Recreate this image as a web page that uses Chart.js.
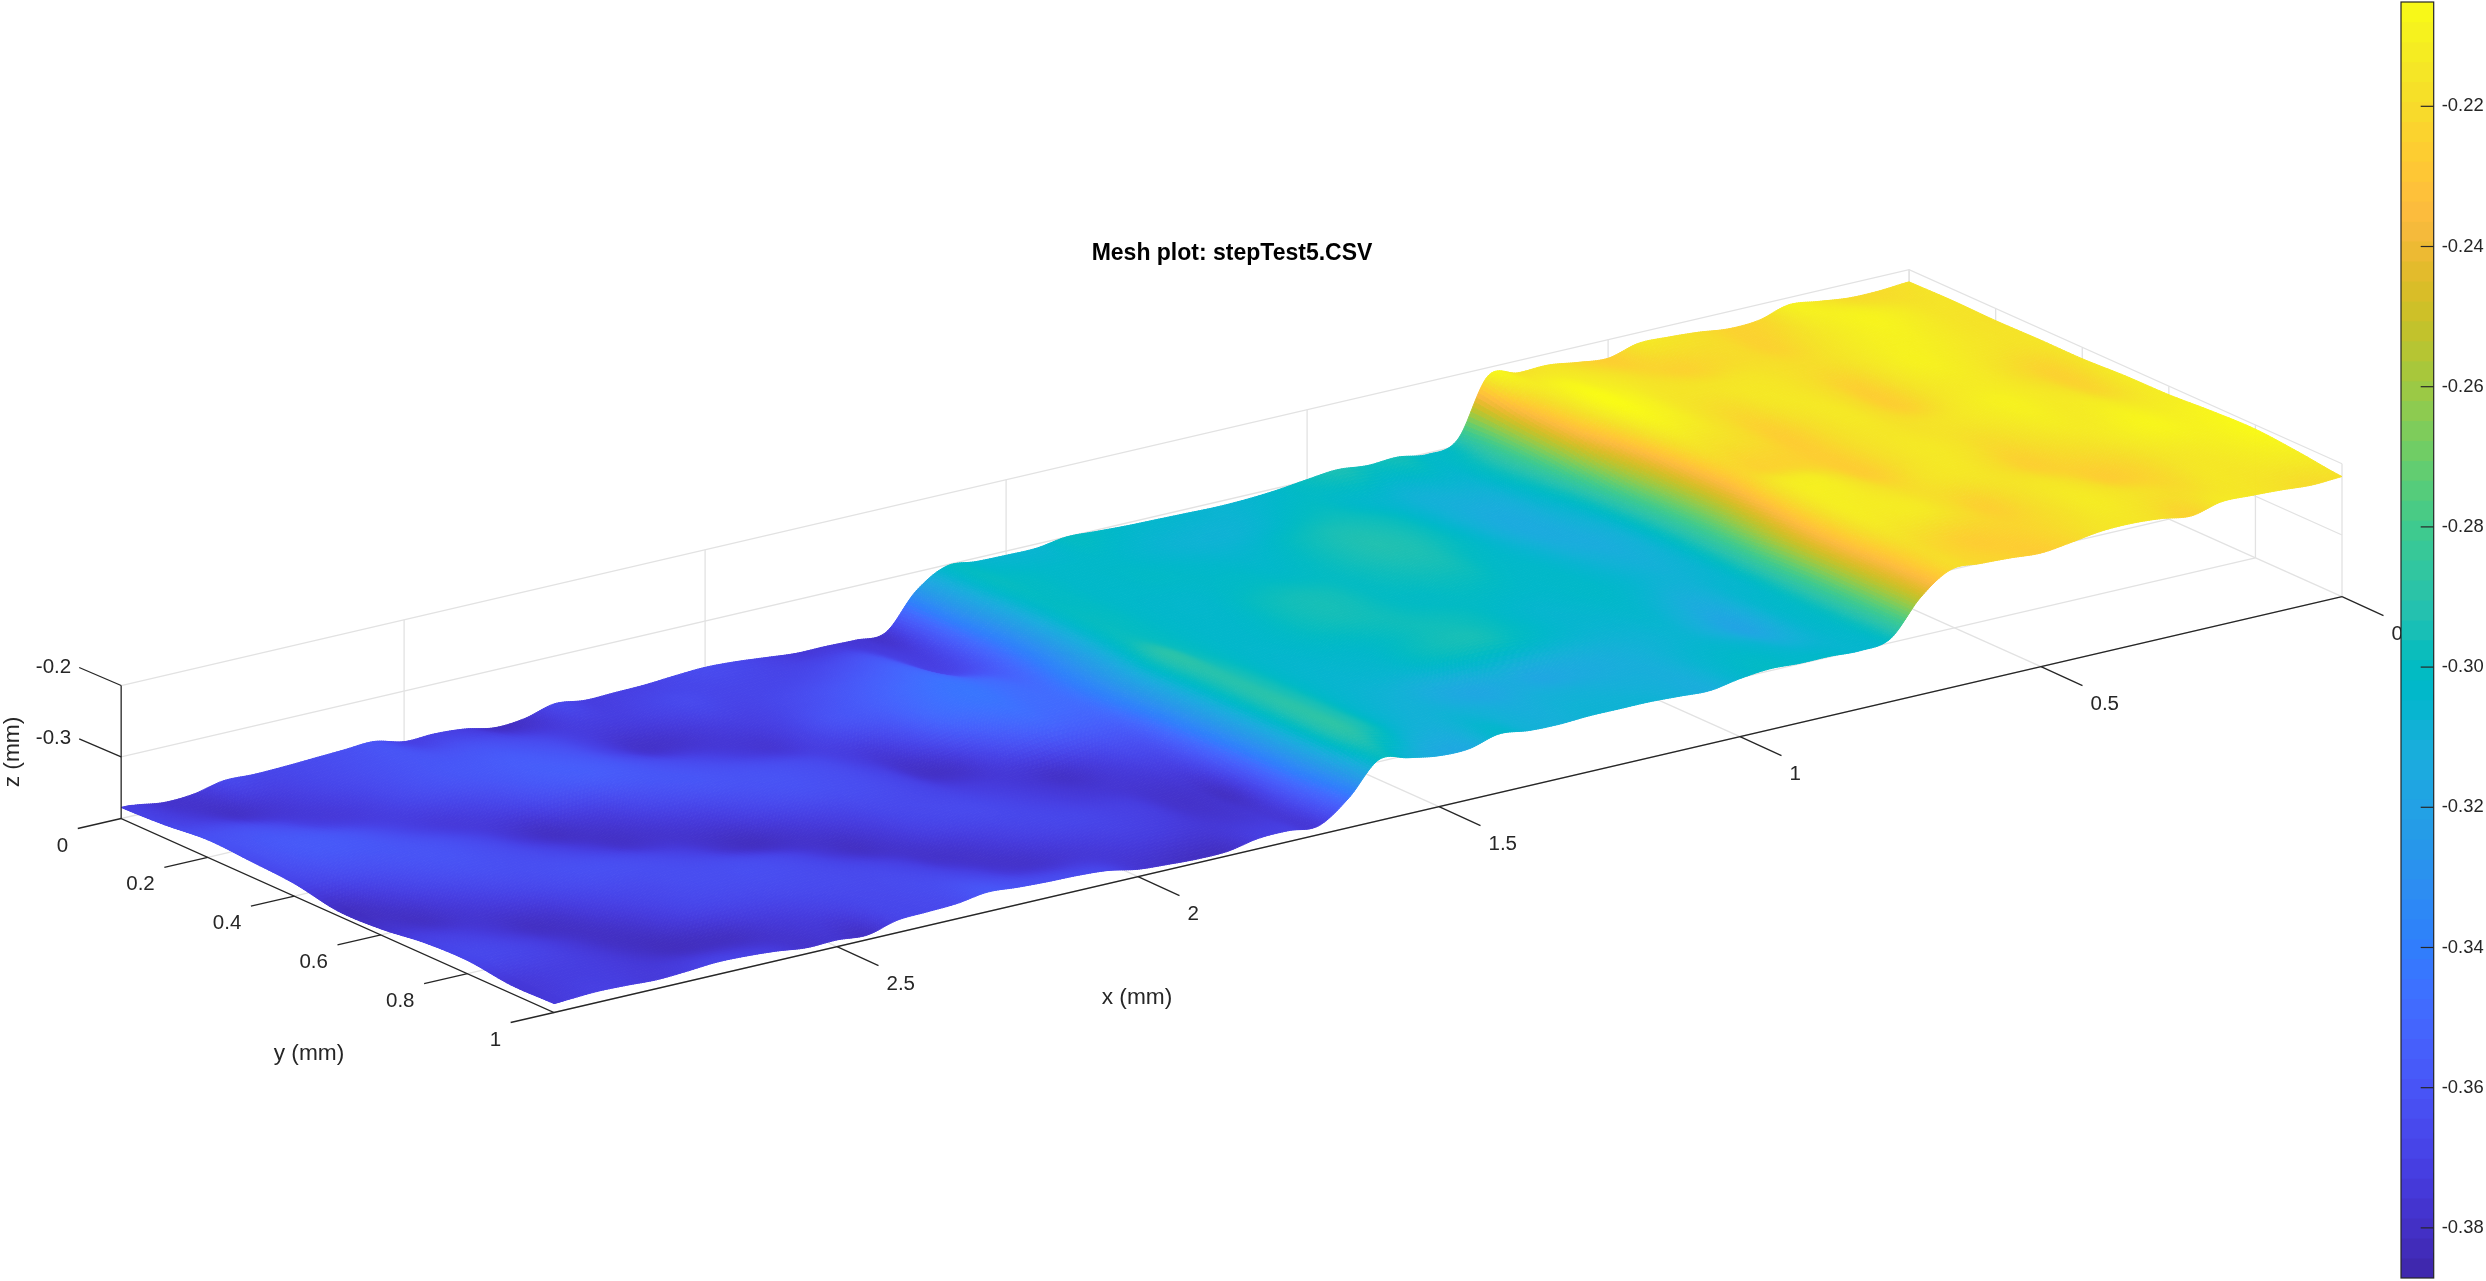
<!DOCTYPE html>
<html>
<head>
<meta charset="utf-8">
<title>Mesh plot: stepTest5.CSV</title>
<script src="https://cdn.jsdelivr.net/npm/chart.js@4"></script>
<style>
  html, body { margin: 0; padding: 0; background: #fff; overflow: hidden; }
  #meshChart { position: absolute; left: 0; top: 0; }
  #barChart { position: absolute; left: 2340px; top: 0; }
</style>
</head>
<body>
<canvas id="meshChart" width="2486" height="1281"></canvas>
<canvas id="barChart" width="146" height="1281"></canvas>
<script>
// grid of the measured surface, x and y in mm
const xValues = [0, 0.05, 0.1, 0.15, 0.2, 0.25, 0.3, 0.35, 0.4, 0.45, 0.5, 0.55, 0.6, 0.65, 0.7, 0.75, 0.8, 0.85, 0.9, 0.95,
  1, 1.05, 1.1, 1.15, 1.2, 1.25, 1.3, 1.35, 1.4, 1.45, 1.5, 1.55, 1.6, 1.65, 1.7, 1.75, 1.8, 1.85, 1.9, 1.95,
  2, 2.05, 2.1, 2.15, 2.2, 2.25, 2.3, 2.35, 2.4, 2.45, 2.5, 2.55, 2.6, 2.65, 2.7, 2.75, 2.8, 2.85, 2.9, 2.95, 2.97];
const yValues = [0, 0.1, 0.2, 0.3, 0.4, 0.5, 0.6, 0.7, 0.8, 0.9, 1];

// z in um, one row per y value
const zRow00 = [-217,-220,-220,-215,-210,-222,-224,-219,-216,-215,-226,-222,-216, -217,-212,-291,-302, -296,-298,-294,-298,-303,-306,-307,-306,-305,-304,-302,-300,-306,-306,-305, -302,-327,-375,-376, -375,-375,-371,-367,-365,-367,-370,-371,-372,-367,-378,-381,-373,-370,-371,-361,-363,-365,-367,-368,-367,-376,-378,-372,-371];
const zRow01 = [-216,-216,-212,-209,-212,-218,-224,-220,-221,-224,-221,-216,-212, -209,-228,-285,-304, -306,-308,-305,-303,-300,-302,-306,-308,-308,-307,-305,-303,-303,-303,-301, -302,-330,-368,-372, -362,-364,-367,-368,-368,-368,-366,-369,-372,-373,-372,-368,-364,-361,-361,-360,-362,-365,-368,-372,-376,-379,-374,-370,-368];
const zRow02 = [-217,-216,-213,-210,-211,-215,-219,-218,-216,-216,-216,-215,-209, -207,-235,-290,-308, -312,-310,-305,-299,-296,-295,-298,-303,-305,-304,-303,-302,-303,-303,-301, -304,-334,-362,-368, -352,-354,-358,-362,-366,-370,-372,-375,-378,-378,-370,-362,-358,-356,-358,-360,-363,-367,-372,-374,-372,-366,-362,-362,-362];
const zRow03 = [-216,-217,-215,-212,-210,-215,-225,-219,-215,-215,-221,-217,-211, -213,-250,-298,-310, -314,-310,-304,-298,-294,-293,-296,-300,-302,-301,-302,-304,-304,-303,-300, -303,-332,-352,-350, -345,-347,-352,-358,-362,-370,-376,-374,-370,-366,-362,-358,-356,-358,-362,-368,-372,-374,-371,-366,-361,-358,-358,-362,-365];
const zRow04 = [-216,-224,-219,-214,-213,-216,-225,-219,-214,-218,-226,-220,-218, -221,-262,-302,-312, -312,-308,-304,-301,-296,-296,-298,-300,-297,-296,-298,-303,-304,-303,-300, -300,-326,-346,-348, -345,-347,-352,-365,-374,-372,-367,-364,-362,-361,-360,-362,-366,-372,-376,-380,-376,-369,-364,-361,-360,-361,-363,-367,-369];
const zRow05 = [-213,-222,-216,-213,-210,-213,-216,-217,-215,-218,-226,-224,-224, -226,-265,-302,-310, -309,-306,-303,-303,-301,-300,-301,-300,-297,-296,-298,-302,-304,-303,-298, -291,-322,-348,-352, -352,-358,-368,-378,-379,-370,-365,-363,-362,-364,-368,-373,-376,-378,-379,-374,-369,-365,-363,-362,-364,-368,-374,-380,-380];
const zRow06 = [-212,-214,-211,-213,-212,-216,-220,-216,-214,-218,-226,-218,-212, -218,-258,-300,-308, -308,-305,-303,-304,-305,-303,-299,-297,-297,-300,-303,-304,-305,-303,-296, -293,-325,-358,-365, -372,-378,-376,-374,-372,-368,-366,-366,-370,-374,-378,-381,-378,-372,-368,-365,-363,-363,-365,-368,-372,-376,-380,-378,-378];
const zRow07 = [-208,-210,-208,-212,-217,-221,-225,-219,-215,-216,-219,-215,-212, -215,-248,-298,-306, -313,-309,-305,-306,-306,-304,-301,-297,-297,-300,-305,-306,-306,-303,-295, -293,-328,-366,-374, -376,-376,-374,-371,-368,-366,-367,-370,-376,-380,-376,-370,-366,-364,-364,-364,-366,-368,-372,-378,-380,-376,-372,-370,-370];
const zRow08 = [-206,-210,-213,-216,-223,-226,-219,-215,-218,-225,-219,-214,-214, -216,-245,-296,-305, -318,-312,-307,-308,-310,-312,-314,-316,-313,-316,-314,-310,-308,-304,-294, -292,-332,-376,-378, -378,-372,-370,-368,-368,-370,-374,-378,-378,-372,-368,-366,-365,-365,-366,-367,-369,-374,-379,-380,-376,-371,-368,-367,-368];
const zRow09 = [-211,-213,-215,-215,-220,-218,-215,-213,-218,-222,-224,-226,-222, -221,-248,-296,-305, -310,-306,-304,-306,-311,-311,-311,-310,-310,-312,-310,-308,-310,-306,-295, -292,-335,-372,-376, -376,-374,-372,-372,-374,-376,-378,-376,-370,-366,-365,-366,-367,-370,-373,-376,-380,-381,-381,-378,-374,-372,-372,-374,-375];
const zRow10 = [-218,-220,-217,-215,-214,-224,-218,-215,-216,-222,-227,-224,-222, -221,-250,-298,-305, -303,-303,-301,-305,-312,-310,-308,-308,-308,-310,-309,-304,-315,-315,-308, -301,-345,-374,-371, -372,-380,-381,-379,-376,-368,-365,-364,-362,-359,-365,-367,-369,-380,-377,-378,-373,-370,-369,-372,-374,-372,-371,-373,-374];
const zRows = [zRow00, zRow01, zRow02, zRow03, zRow04, zRow05, zRow06, zRow07, zRow08, zRow09, zRow10];

// axis ticks
const xTicks = [0, 0.5, 1, 1.5, 2, 2.5];
const yTicks = [0, 0.2, 0.4, 0.6, 0.8, 1];
const zTicks = [-0.2, -0.3];
const barTicks = [-0.38, -0.36, -0.34, -0.32, -0.3, -0.28, -0.26, -0.24, -0.22];
const barMin = -0.38715;
const barMax = -0.20512;

// parula, 64 steps
const parula = [
  [0.2422,0.1504,0.6603],[0.2504,0.1650,0.7076],[0.2578,0.1818,0.7511],[0.2647,0.1978,0.7952],
  [0.2706,0.2147,0.8364],[0.2751,0.2342,0.8710],[0.2783,0.2559,0.8991],[0.2803,0.2782,0.9221],
  [0.2813,0.3006,0.9414],[0.2810,0.3228,0.9579],[0.2795,0.3447,0.9717],[0.2760,0.3667,0.9829],
  [0.2699,0.3892,0.9906],[0.2602,0.4123,0.9952],[0.2440,0.4358,0.9988],[0.2206,0.4603,0.9973],
  [0.1963,0.4847,0.9892],[0.1834,0.5074,0.9798],[0.1786,0.5289,0.9682],[0.1764,0.5499,0.9520],
  [0.1687,0.5703,0.9359],[0.1540,0.5902,0.9218],[0.1460,0.6091,0.9079],[0.1380,0.6276,0.8973],
  [0.1248,0.6459,0.8883],[0.1113,0.6635,0.8763],[0.0952,0.6798,0.8598],[0.0689,0.6948,0.8394],
  [0.0297,0.7082,0.8163],[0.0036,0.7203,0.7917],[0.0067,0.7312,0.7660],[0.0433,0.7411,0.7394],
  [0.0964,0.7500,0.7120],[0.1408,0.7584,0.6842],[0.1717,0.7670,0.6554],[0.1938,0.7758,0.6251],
  [0.2161,0.7843,0.5923],[0.2470,0.7918,0.5567],[0.2906,0.7973,0.5188],[0.3406,0.8008,0.4789],
  [0.3909,0.8029,0.4354],[0.4456,0.8024,0.3909],[0.5044,0.7993,0.3480],[0.5616,0.7942,0.3045],
  [0.6174,0.7876,0.2612],[0.6720,0.7793,0.2227],[0.7242,0.7698,0.1910],[0.7738,0.7598,0.1646],
  [0.8203,0.7498,0.1535],[0.8634,0.7406,0.1596],[0.9035,0.7330,0.1774],[0.9393,0.7288,0.2100],
  [0.9728,0.7298,0.2394],[0.9956,0.7434,0.2371],[0.9970,0.7659,0.2199],[0.9952,0.7893,0.2028],
  [0.9892,0.8136,0.1885],[0.9786,0.8386,0.1766],[0.9676,0.8639,0.1643],[0.9610,0.8890,0.1537],
  [0.9597,0.9135,0.1423],[0.9628,0.9373,0.1265],[0.9691,0.9606,0.1064],[0.9769,0.9839,0.0805]
];

const darkText = "rgb(38, 38, 38)";
const gridColor = "rgb(226, 226, 226)";
const xMax = 2.97;
const zFloor = -0.3865;
const zTop = -0.2;

// view of the axes box: parallel projection onto the page
function projX(x, y) {
  return 2342 - 602 * x + 432.9 * (y - 1);
}
function projY(x, y, z) {
  return 596.7 + 140 * x + 194 * (y - 1) - 713 * (z - zFloor);
}
function pt(x, y, z) {
  return { x: projX(x, y), y: projY(x, y, z) };
}

function parulaColor(z) {
  let t = (z - barMin) / (barMax - barMin);
  t = Math.min(1, Math.max(0, t)) * (parula.length - 1);
  const i = Math.min(parula.length - 2, Math.floor(t));
  const f = t - i;
  const c = [0, 1, 2].map(function (k) {
    return Math.round(255 * (parula[i][k] + (parula[i + 1][k] - parula[i][k]) * f));
  });
  return "rgb(" + c.join(",") + ")";
}

function lineSet(points, color, width, order) {
  return {
    type: "scatter",
    data: points,
    showLine: true,
    borderColor: color,
    borderWidth: width,
    pointRadius: 0,
    fill: false,
    order: order,
  };
}

const gridSets = [];
xTicks.forEach(function (x) {
  gridSets.push(lineSet([pt(x, 0, zFloor), pt(x, 1, zFloor)], gridColor, 1.3, 3));
  gridSets.push(lineSet([pt(x, 0, zFloor), pt(x, 0, zTop)], gridColor, 1.3, 3));
});
yTicks.forEach(function (y) {
  gridSets.push(lineSet([pt(0, y, zFloor), pt(xMax, y, zFloor)], gridColor, 1.3, 3));
  gridSets.push(lineSet([pt(0, y, zFloor), pt(0, y, zTop)], gridColor, 1.3, 3));
});
zTicks.forEach(function (z) {
  gridSets.push(lineSet([pt(xMax, 0, z), pt(0, 0, z), pt(0, 1, z)], gridColor, 1.3, 3));
});

const axisSets = [
  lineSet([pt(0, 1, zFloor), pt(xMax, 1, zFloor), pt(xMax, 0, zFloor), pt(xMax, 0, zTop)], darkText, 1.3, 1),
];
xTicks.forEach(function (x) {
  const a = pt(x, 1, zFloor);
  axisSets.push(lineSet([a, { x: a.x + 41.5, y: a.y + 19 }], darkText, 1.3, 1));
});
yTicks.forEach(function (y) {
  const a = pt(xMax, y, zFloor);
  axisSets.push(lineSet([a, { x: a.x - 43.4, y: a.y + 10 }], darkText, 1.3, 1));
});
zTicks.forEach(function (z) {
  const a = pt(xMax, 0, z);
  axisSets.push(lineSet([a, { x: a.x - 42, y: a.y - 18 }], darkText, 1.3, 1));
});

// the surface nodes, the plugin below fills the patches between them
const surfacePoints = [];
zRows.forEach(function (row, j) {
  row.forEach(function (v, i) {
    surfacePoints.push(pt(xValues[i], yValues[j], v / 1000));
  });
});
const surfaceSet = {
  type: "scatter",
  label: "surface",
  data: surfacePoints,
  pointRadius: 0,
  showLine: false,
  order: 2,
};

function catmull(a, b, c, d, t) {
  return 0.5 * (2 * b + (c - a) * t + (2 * a - 5 * b + 4 * c - d) * t * t + (3 * b - a - 3 * c + d) * t * t * t);
}
function rowAt(i, j) {
  const r = zRows[Math.max(0, Math.min(zRows.length - 1, j))];
  return r[Math.max(0, Math.min(r.length - 1, i))];
}
function sampleZ(fi, fj) {
  const i = Math.min(xValues.length - 2, Math.floor(fi));
  const j = Math.min(yValues.length - 2, Math.floor(fj));
  const col = [];
  for (let m = -1; m <= 2; m++) {
    col.push(catmull(rowAt(i - 1, j + m), rowAt(i, j + m), rowAt(i + 1, j + m), rowAt(i + 2, j + m), fi - i));
  }
  return catmull(col[0], col[1], col[2], col[3], fj - j) / 1000;
}

const surfacePlugin = {
  id: "surfacePlugin",
  beforeDatasetDraw: function (chart, args) {
    if (chart.data.datasets[args.index] !== surfaceSet) return;
    const ctx = chart.ctx;
    const sx = chart.scales.x;
    const sy = chart.scales.y;
    const subX = 16;
    const subY = 10;
    const nx = (xValues.length - 1) * subX + 1;
    const ny = (yValues.length - 1) * subY + 1;
    const px = [];
    const py = [];
    const pz = [];
    for (let a = 0; a < nx; a++) {
      const fi = a / subX;
      const i0 = Math.min(xValues.length - 2, Math.floor(fi));
      const x = xValues[i0] + (xValues[i0 + 1] - xValues[i0]) * (fi - i0);
      for (let b = 0; b < ny; b++) {
        const fj = b / subY;
        const j0 = Math.min(yValues.length - 2, Math.floor(fj));
        const y = yValues[j0] + (yValues[j0 + 1] - yValues[j0]) * (fj - j0);
        const z = sampleZ(fi, fj);
        px.push(sx.getPixelForValue(projX(x, y)));
        py.push(sy.getPixelForValue(projY(x, y, z)));
        pz.push(z);
      }
    }
    ctx.save();
    ctx.lineWidth = 1;
    ctx.lineJoin = "round";
    // back to front
    for (let a = 0; a < nx - 1; a++) {
      for (let b = 0; b < ny - 1; b++) {
        const p0 = a * ny + b;
        const p1 = (a + 1) * ny + b;
        const p2 = (a + 1) * ny + b + 1;
        const p3 = a * ny + b + 1;
        const color = parulaColor((pz[p0] + pz[p1] + pz[p2] + pz[p3]) / 4);
        ctx.fillStyle = color;
        ctx.strokeStyle = color;
        ctx.beginPath();
        ctx.moveTo(px[p0], py[p0]);
        ctx.lineTo(px[p1], py[p1]);
        ctx.lineTo(px[p2], py[p2]);
        ctx.lineTo(px[p3], py[p3]);
        ctx.closePath();
        ctx.fill();
        ctx.stroke();
      }
    }
    ctx.restore();
  },
};

const textPlugin = {
  id: "textPlugin",
  afterDraw: function (chart) {
    const ctx = chart.ctx;
    const sx = chart.scales.x;
    const sy = chart.scales.y;
    ctx.save();
    ctx.fillStyle = darkText;
    ctx.textBaseline = "middle";
    ctx.font = '20.5px "Liberation Sans"';
    ctx.textAlign = "left";
    xTicks.forEach(function (x) {
      const a = pt(x, 1, zFloor);
      ctx.fillText(String(x), sx.getPixelForValue(a.x + 49.5), sy.getPixelForValue(a.y + 38));
    });
    ctx.textAlign = "right";
    yTicks.forEach(function (y) {
      const a = pt(xMax, y, zFloor);
      ctx.fillText(String(y), sx.getPixelForValue(a.x - 53), sy.getPixelForValue(a.y + 27.5));
    });
    zTicks.forEach(function (z) {
      const a = pt(xMax, 0, z);
      ctx.fillText(z.toFixed(1), sx.getPixelForValue(a.x - 50), sy.getPixelForValue(a.y - 18.5));
    });
    ctx.font = '22.7px "Liberation Sans"';
    ctx.textAlign = "center";
    ctx.fillText("x (mm)", sx.getPixelForValue(1137), sy.getPixelForValue(998));
    ctx.fillText("y (mm)", sx.getPixelForValue(309), sy.getPixelForValue(1054));
    ctx.save();
    ctx.translate(sx.getPixelForValue(13), sy.getPixelForValue(752));
    ctx.rotate(-Math.PI / 2);
    ctx.fillText("z (mm)", 0, 0);
    ctx.restore();
    ctx.fillStyle = "#000";
    ctx.font = 'bold 23px "Liberation Sans"';
    ctx.textBaseline = "alphabetic";
    ctx.fillText("Mesh plot: stepTest5.CSV", sx.getPixelForValue(1232), sy.getPixelForValue(260));
    ctx.restore();
  },
};

new Chart(document.getElementById("meshChart"), {
  type: "scatter",
  data: { datasets: gridSets.concat([surfaceSet]).concat(axisSets) },
  options: {
    responsive: false,
    animation: false,
    events: [],
    layout: { padding: 0 },
    plugins: { legend: { display: false }, tooltip: { enabled: false } },
    scales: {
      x: { display: false, min: 0, max: 2486 },
      y: { display: false, min: 0, max: 1281, reverse: true },
    },
  },
  plugins: [surfacePlugin, textPlugin],
});

// colorbar: one floating bar per colormap step
const barSets = parula.map(function (c, i) {
  const step = (barMax - barMin) / parula.length;
  const lo = barMin + i * step;
  return {
    data: [[lo, Math.min(barMax, lo + step * 1.25)]],
    backgroundColor: parulaColor(lo + step / 2),
    borderWidth: 0,
    barPercentage: 1,
    categoryPercentage: 1,
    grouped: false,
    order: parula.length - i,
  };
});

const barFramePlugin = {
  id: "barFramePlugin",
  afterDraw: function (chart) {
    const ctx = chart.ctx;
    const area = chart.chartArea;
    const s = chart.scales.y;
    ctx.save();
    ctx.strokeStyle = darkText;
    ctx.lineWidth = 1.2;
    ctx.strokeRect(area.left, area.top, area.right - area.left, area.bottom - area.top);
    barTicks.forEach(function (v) {
      const y = s.getPixelForValue(v);
      ctx.beginPath();
      ctx.moveTo(area.right, y);
      ctx.lineTo(area.right - 13, y);
      ctx.stroke();
    });
    ctx.restore();
  },
};

new Chart(document.getElementById("barChart"), {
  type: "bar",
  data: { labels: [""], datasets: barSets },
  options: {
    responsive: false,
    animation: false,
    events: [],
    layout: { padding: { left: 61, top: 2, bottom: 3, right: 0 } },
    plugins: { legend: { display: false }, tooltip: { enabled: false } },
    scales: {
      x: { display: false },
      y: {
        position: "right",
        min: barMin,
        max: barMax,
        grid: { display: false, drawTicks: false },
        border: { display: false },
        afterBuildTicks: function (scale) {
          scale.ticks = barTicks.map(function (v) {
            return { value: v };
          });
        },
        afterFit: function (scale) {
          scale.width = 52.3;
          scale.paddingTop = 0;
          scale.paddingBottom = 0;
        },
        ticks: {
          padding: 8,
          color: darkText,
          font: { family: "Liberation Sans", size: 18.4 },
          callback: function (v) {
            return Number(v).toFixed(2);
          },
        },
      },
    },
  },
  plugins: [barFramePlugin],
});
</script>
</body>
</html>
